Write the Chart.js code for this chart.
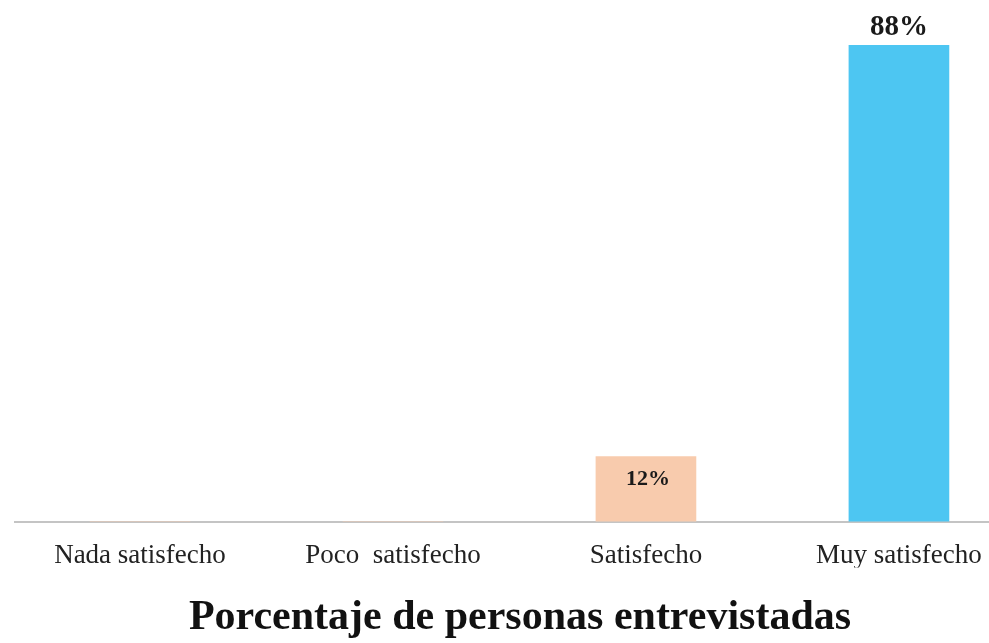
<!DOCTYPE html>
<html>
<head>
<meta charset="utf-8">
<script src="https://cdn.jsdelivr.net/npm/chart.js@4.4.0/dist/chart.umd.min.js"></script>
<style>
  html, body { margin: 0; padding: 0; background: #fff; }
  #wrap { width: 989px; height: 643px; position: relative; }
</style>
</head>
<body>
<div id="wrap"><canvas id="satisfaccion_chart"></canvas></div>
<script>
// DATA
const categories = ["Nada satisfecho", "Poco  satisfecho", "Satisfecho", "Muy satisfecho"];
const percentages = [0, 0, 12, 88];
const bar_colors = ["#F8CBAD", "#F8CBAD", "#F8CBAD", "#4DC6F2"];
const chart_title = "Porcentaje de personas entrevistadas";

const ctx = document.getElementById("satisfaccion_chart").getContext("2d");

// labels "12%" / "88%" on the bars
const valueLabels = {
  id: "valueLabels",
  afterLayout(chart) {
    // title sits a bit right of centre in the original
    if (chart.titleBlock) {
      chart.titleBlock.left += 18;
      chart.titleBlock.right += 18;
    }
  },
  afterDatasetsDraw(chart) {
    const c = chart.ctx;
    const meta = chart.getDatasetMeta(0);
    c.save();
    c.fillStyle = "#1a1a1a";
    c.textAlign = "center";
    meta.data.forEach((bar, i) => {
      const v = percentages[i];
      if (!v) return;
      if (v > 50) {
        // big bar -> label above
        c.font = "bold 29px 'Liberation Serif'";
        c.textBaseline = "bottom";
        c.fillText(v + "%", bar.x, bar.y - 3);
      } else {
        c.font = "bold 22px 'Liberation Serif'";
        c.textBaseline = "middle";
        c.fillText(v + "%", bar.x + 2, bar.y + 23);
      }
    });
    c.restore();
  },
};

new Chart(ctx, {
  type: "bar",
  data: {
    datasets: [
      {
        data: percentages.map((v, i) => ({ x: i, y: v })),
        backgroundColor: bar_colors,
        borderWidth: 0,
        barThickness: 100,
      },
    ],
  },
  options: {
    responsive: true,
    maintainAspectRatio: false,
    animation: false,
    layout: { padding: { top: 45, left: 15, right: 0, bottom: 0 } },
    plugins: {
      legend: { display: false },
      tooltip: { enabled: false },
      title: {
        display: true,
        position: "bottom",
        text: chart_title,
        color: "#111",
        font: { family: "'Liberation Serif'", size: 42, weight: "bold" },
        padding: { top: 25, bottom: 0 },
      },
    },
    scales: {
      x: {
        type: "linear",
        offset: false,
        min: -0.494,
        max: 3.356,
        afterBuildTicks: (scale) => {
          scale.ticks = categories.map((c, i) => ({ value: i }));
        },
        afterFit: (scale) => {
          scale.height = 46;
          scale.paddingLeft = 0;
          scale.paddingRight = 0;
        },
        grid: { display: false, drawTicks: false },
        border: { display: true, color: "#c4c4c4", width: 2 },
        ticks: {
          autoSkip: false,
          maxRotation: 0,
          padding: 18,
          color: "#222",
          font: { family: "'Liberation Serif'", size: 27 },
          callback: (value) => categories[value],
        },
      },
      y: {
        display: false,
        min: 0,
        max: 88,
      },
    },
  },
  plugins: [valueLabels],
});
</script>
</body>
</html>
